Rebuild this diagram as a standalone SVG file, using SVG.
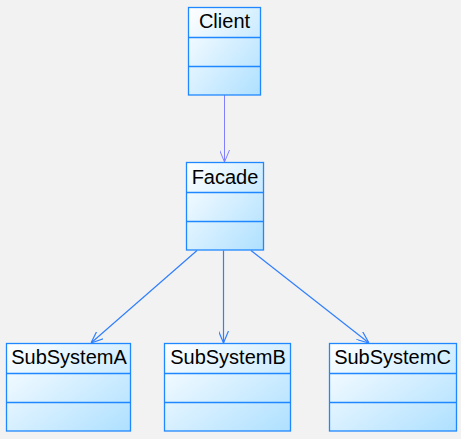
<svg xmlns="http://www.w3.org/2000/svg" width="461" height="439" viewBox="0 0 461 439">
<style>
.box{fill:url(#g);stroke:#1f87ff;stroke-width:1.3}
.div{stroke:#1f87ff;stroke-width:1.3}
.t{font-family:"Liberation Sans",Arial,sans-serif;font-size:20px;fill:#000;text-anchor:middle}
.c1{stroke:#7f7fff;stroke-width:1;fill:none}
.c2{stroke:#2f7fff;stroke-width:1.2;fill:none}
</style>
<defs>
<linearGradient id="g" x1="0" y1="0" x2="1" y2="1">
<stop offset="0" stop-color="#ffffff"/>
<stop offset="1" stop-color="#aee0ff"/>
</linearGradient>
<marker id="a1" viewBox="0 0 12 10" refX="12" refY="5" markerWidth="12" markerHeight="10" markerUnits="userSpaceOnUse" orient="auto">
<path d="M0,0 L12,5 L0,10" fill="none" stroke="#7f7fff" stroke-width="1"/>
</marker>
<marker id="a2" viewBox="0 0 12 10" refX="12" refY="5" markerWidth="12" markerHeight="10" markerUnits="userSpaceOnUse" orient="auto">
<path d="M0,0 L12,5 L0,10" fill="none" stroke="#2f7fff" stroke-width="1.2"/>
</marker>
</defs>
<rect width="461" height="439" fill="#f2f2f2"/>
<g id="connectors">
<line class="c1" x1="224.5" y1="95" x2="224.5" y2="162" marker-end="url(#a1)"/>
<line class="c2" x1="197" y1="250.5" x2="91" y2="343" marker-end="url(#a2)"/>
<line class="c2" x1="223.5" y1="250.5" x2="223.5" y2="343" marker-end="url(#a2)"/>
<line class="c2" x1="251" y1="250.5" x2="369" y2="343" marker-end="url(#a2)"/>
</g>
<g id="client">
<rect class="box" x="188.5" y="7.5" width="72" height="87.5"/>
<line class="div" x1="188.5" y1="37.5" x2="260.5" y2="37.5"/>
<line class="div" x1="188.5" y1="66.5" x2="260.5" y2="66.5"/>
<text class="t" x="224.5" y="28">Client</text>
</g>
<g id="facade">
<rect class="box" x="186.5" y="162.5" width="77" height="87.5"/>
<line class="div" x1="186.5" y1="192.5" x2="263.5" y2="192.5"/>
<line class="div" x1="186.5" y1="221.5" x2="263.5" y2="221.5"/>
<text class="t" x="225" y="183.5">Facade</text>
</g>
<g id="subsystemA">
<rect class="box" x="6.5" y="343.5" width="124" height="87.5"/>
<line class="div" x1="6.5" y1="373.5" x2="130.5" y2="373.5"/>
<line class="div" x1="6.5" y1="402.5" x2="130.5" y2="402.5"/>
<text class="t" x="69" y="363.5">SubSystemA</text>
</g>
<g id="subsystemB">
<rect class="box" x="164.5" y="343.5" width="126" height="87.5"/>
<line class="div" x1="164.5" y1="373.5" x2="290.5" y2="373.5"/>
<line class="div" x1="164.5" y1="402.5" x2="290.5" y2="402.5"/>
<text class="t" x="228" y="363.5">SubSystemB</text>
</g>
<g id="subsystemC">
<rect class="box" x="329.5" y="343.5" width="127" height="87.5"/>
<line class="div" x1="329.5" y1="373.5" x2="456.5" y2="373.5"/>
<line class="div" x1="329.5" y1="402.5" x2="456.5" y2="402.5"/>
<text class="t" x="392.5" y="363.5">SubSystemC</text>
</g>
</svg>
